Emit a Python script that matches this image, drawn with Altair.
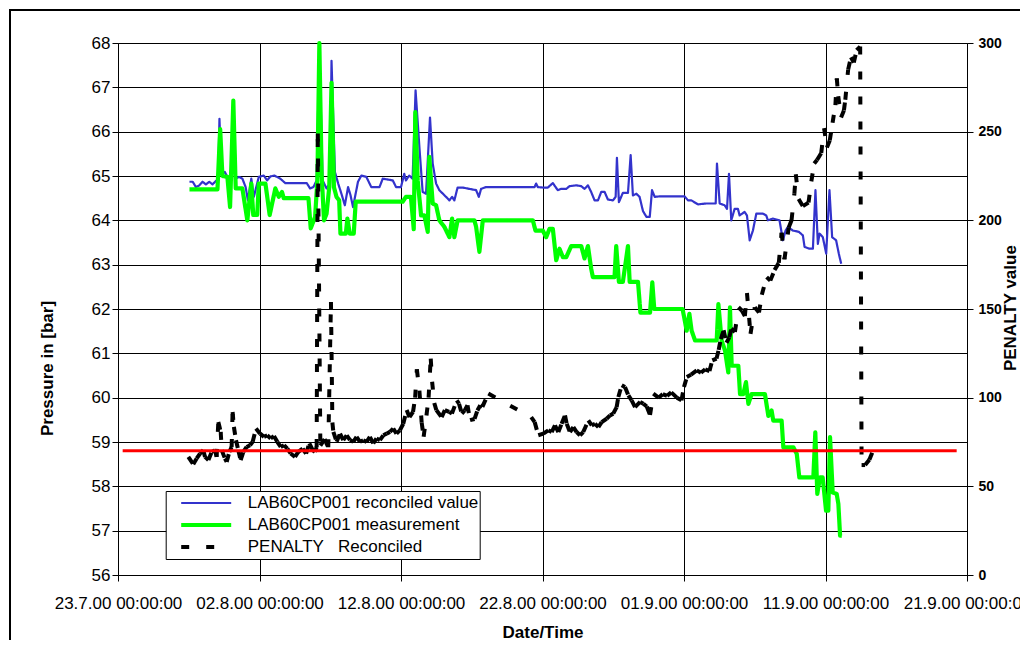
import altair as alt
import pandas as pd

FONT = "Liberation Sans, Arial, sans-serif"

# ---- series definitions -------------------------------------------------
SERIES = ["LAB60CP001 reconciled value", "LAB60CP001 measurement",
          "PENALTY\u00a0\u00a0\u00a0Reconciled"]
COLORS = ["#3333CC", "#00FF00", "#000000"]
WIDTHS = [2.2, 4.2, 4.0]
DASHES = [[1, 0], [1, 0], [8, 17]]

# ---- axes ---------------------------------------------------------------
TICK_DAYS = [0, 10, 20, 30, 40, 50, 60]          # days after 23.7.00
TICK_LABELS = ["23.7.00 00:00:00", "02.8.00 00:00:00", "12.8.00 00:00:00",
               "22.8.00 00:00:00", "01.9.00 00:00:00", "11.9.00 00:00:00",
               "21.9.00 00:00:00"]
PRESSURE_TICKS = list(range(56, 69))
PENALTY_TICKS = [0, 50, 100, 150, 200, 250, 300]

# ---- data (days after 23.7.00 00:00) ----------------------------------
BLUE_DAY = [5.05, 5.28, 5.51, 5.75, 5.98, 6.21, 6.45, 6.68, 6.92, 7.08, 7.17, 7.31, 7.55, 7.73, 7.97,
            8.15, 8.32, 8.55, 8.79, 9.02, 9.18, 9.42, 9.6, 9.95, 10.3, 10.54, 10.77, 11.05, 11.47,
            11.82, 12.64, 13.34, 13.57, 13.81, 14.04, 14.23, 14.46, 14.74, 14.98, 15.09, 15.33,
            15.56, 15.79, 16.03, 16.26, 16.43, 16.61, 16.96, 17.2, 17.55, 17.9, 18.48, 18.71,
            19.42, 19.65, 20.0, 20.23, 20.35, 20.58, 20.82, 21.03, 21.3, 21.53, 21.77, 22.05,
            22.24, 22.48, 22.71, 23.18, 23.42, 23.61, 23.77, 24.0, 24.36, 24.83, 25.31, 25.5,
            25.66, 26.01, 27.67, 29.44, 29.55, 29.67, 30.02, 30.38, 30.73, 31.08, 31.32, 31.68,
            31.91, 32.38, 32.74, 32.97, 33.21, 33.44, 33.68, 33.92, 34.15, 34.39, 34.62, 34.98,
            35.17, 35.26, 35.4, 35.68, 36.04, 36.23, 36.39, 36.63, 36.86, 37.1, 37.34, 37.58,
            37.74, 37.93, 38.28, 39.22, 40.05, 40.28, 40.52, 40.99, 41.58, 42.24, 42.33, 42.52,
            42.87, 43.04, 43.18, 43.34, 43.58, 43.81, 43.93, 44.28, 44.45, 44.64, 44.87, 45.11,
            45.58, 45.81, 45.93, 46.28, 46.75, 46.99, 47.18, 47.34, 47.69, 48.12, 48.4, 48.52,
            48.87, 49.11, 49.29, 49.46, 49.58, 49.81, 50.05, 50.28, 50.47, 50.75, 50.94, 51.11]
BLUE_P = [64.87, 64.87, 64.75, 64.79, 64.87, 64.81, 64.87, 64.81, 64.89, 64.9, 66.29, 65.05, 65.09,
          64.98, 64.9, 66.7, 64.94, 64.98, 64.94, 64.75, 64.45, 64.94, 64.53, 64.98, 65.01, 64.9,
          64.99, 65.01, 64.94, 64.84, 64.84, 64.84, 64.72, 64.75, 64.9, 67.9, 64.9, 64.72, 64.83,
          67.6, 65.09, 64.83, 64.6, 64.34, 64.75, 64.57, 64.3, 64.87, 65.01, 64.98, 64.75, 64.75,
          64.94, 64.9, 64.75, 64.75, 65.05, 64.9, 65.01, 64.94, 66.93, 65.65, 64.64, 64.6, 66.32,
          65.28, 64.83, 64.68, 64.53, 64.45, 64.53, 64.45, 64.74, 64.74, 64.71, 64.68, 64.53,
          64.71, 64.75, 64.75, 64.75, 64.83, 64.75, 64.74, 64.74, 64.84, 64.68, 64.71, 64.71,
          64.77, 64.79, 64.77, 64.71, 64.79, 64.64, 64.45, 64.45, 64.64, 64.64, 64.47, 64.45,
          64.53, 65.41, 64.41, 64.62, 64.62, 65.47, 64.56, 64.6, 64.53, 64.21, 64.08, 64.08,
          64.68, 64.53, 64.54, 64.54, 64.54, 64.45, 64.45, 64.36, 64.38, 64.38, 65.28, 64.38,
          64.34, 64.26, 65.05, 64.0, 64.26, 64.26, 64.11, 64.19, 64.11, 63.55, 63.77, 64.15,
          64.15, 64.11, 64.0, 64.04, 64.0, 63.55, 63.77, 63.85, 63.77, 63.74, 63.66, 63.4,
          63.36, 63.36, 64.68, 63.47, 63.7, 63.62, 63.25, 64.68, 63.62, 63.55, 63.25, 63.02]

GREEN_DAY = [5.05, 7.03, 7.22, 7.38, 7.73, 7.92, 8.15, 8.32, 8.79, 9.14, 9.42, 9.56, 9.84, 9.95,
             10.42, 10.72, 11.12, 11.36, 11.59, 11.71, 13.46, 13.62, 13.93, 14.09, 14.23, 14.39,
             14.56, 14.74, 14.93, 15.09, 15.26, 15.44, 15.63, 15.72, 16.1, 16.21, 16.38, 16.66,
             16.8, 17.08, 20.12, 20.35, 20.7, 20.9, 21.01, 21.18, 21.42, 21.65, 21.89, 22.0,
             22.24, 22.48, 22.71, 23.07, 23.42, 23.61, 23.77, 24.0, 25.19, 25.31, 25.54, 25.78,
             29.32, 29.5, 30.02, 30.26, 30.5, 30.73, 30.97, 31.2, 31.44, 31.68, 32.03, 32.74,
             32.97, 33.21, 33.44, 33.56, 35.09, 35.21, 35.4, 35.68, 36.04, 36.16, 36.75, 36.92,
             37.6, 37.76, 37.9, 39.9, 40.19, 40.38, 40.54, 40.78, 42.31, 42.43, 42.66, 42.9,
             43.13, 43.25, 43.37, 43.84, 43.96, 44.19, 44.38, 44.55, 44.78, 45.72, 45.96, 46.19,
             46.31, 46.9, 47.02, 47.73, 47.97, 48.15, 49.14, 49.28, 49.42, 49.61, 49.8, 50.04,
             50.2, 50.32, 50.51, 50.79, 50.91, 51.03, 51.15]
GREEN_P = [64.7, 64.7, 66.06, 65.0, 64.98, 64.3, 66.7, 64.72, 64.72, 64.0, 64.83, 64.12, 64.12,
           64.83, 64.83, 64.12, 64.72, 64.53, 64.64, 64.5, 64.5, 63.82, 64.08, 64.9, 68.0, 65.05,
           64.0, 64.15, 64.75, 67.1, 64.75, 64.53, 64.45, 63.7, 63.7, 64.04, 63.7, 63.7, 64.42,
           64.42, 64.42, 64.53, 64.53, 63.8, 66.44, 64.9, 64.11, 64.11, 63.74, 65.43, 64.38,
           64.34, 64.0, 63.85, 63.62, 64.04, 63.62, 64.0, 64.0, 63.85, 63.29, 64.0, 64.0, 63.77,
           63.77, 63.62, 63.81, 63.81, 63.1, 63.36, 63.17, 63.17, 63.42, 63.42, 63.14, 63.42,
           62.91, 62.72, 62.72, 63.42, 62.61, 62.61, 63.42, 62.61, 62.61, 61.92, 61.92, 62.6,
           62.0, 62.0, 61.51, 61.89, 61.51, 61.29, 61.29, 62.11, 61.29, 61.06, 60.57, 62.04,
           60.72, 60.72, 60.08, 60.08, 60.35, 59.86, 60.08, 60.08, 59.59, 59.71, 59.48, 59.48,
           58.88, 58.88, 58.73, 58.2, 58.2, 59.22, 57.83, 58.2, 58.2, 57.45, 57.45, 59.11, 57.86,
           57.83, 57.6, 56.89, 56.89]

PEN_DAY = [4.97, 5.32, 5.56, 5.8, 6.03, 6.15, 6.39, 6.62, 6.86, 6.97, 7.09, 7.26, 7.33, 7.56, 7.68,
           7.87, 8.03, 8.1, 8.19, 8.34, 8.5, 8.67, 8.86, 9.09, 9.33, 9.52, 9.75, 10.04, 10.32,
           10.55, 10.79, 11.02, 11.26, 11.5, 11.73, 11.97, 12.2, 12.51, 12.74, 13.05, 13.29,
           13.52, 13.76, 13.92, 14.04, 14.12, 14.3, 14.6, 14.86, 15.05, 15.15, 15.22, 15.45,
           15.69, 15.92, 16.16, 16.4, 16.63, 16.86, 17.1, 17.33, 17.57, 17.8, 18.04, 18.27,
           18.51, 18.75, 18.98, 19.22, 19.45, 19.68, 19.92, 20.16, 20.4, 20.6, 20.85, 21.0,
           21.12, 21.3, 21.46, 21.6, 21.8, 21.95, 22.1, 22.2, 22.35, 22.5, 22.87, 23.1, 23.4,
           23.6, 23.94, 24.1, 24.3, 24.5, 24.7, 24.88, 25.2, 25.4, 25.6, 25.75, 26.17, 29.2,
           29.45, 29.7, 30.06, 30.41, 30.65, 30.88, 31.12, 31.35, 31.59, 31.71, 31.94, 32.18,
           32.41, 32.65, 32.88, 33.24, 33.48, 33.71, 33.95, 34.18, 34.53, 34.77, 35.0, 35.24,
           35.36, 35.6, 35.83, 36.07, 36.3, 36.54, 36.9, 37.13, 37.37, 37.6, 37.83, 38.2, 38.5,
           38.8, 39.1, 39.5, 39.82, 40.0, 40.2, 40.5, 40.9, 41.2, 41.5, 41.8, 42.0, 42.3, 42.45,
           42.6, 42.8, 43.0, 43.2, 43.35, 43.6, 43.85, 44.1, 44.3, 44.45, 44.7, 45.0, 45.3, 45.5,
           45.84, 46.1, 46.4, 46.7, 46.9, 47.1, 47.4, 47.6, 47.8, 47.9, 48.1, 48.4, 48.8, 49.0,
           49.2, 49.4, 49.7, 49.9, 50.1, 50.3, 50.5, 50.7, 50.8, 50.9, 51.1, 51.3, 51.4, 51.6,
           51.8, 52.0, 52.2, 52.45, 52.55, 52.8, 53.1, 53.3]
PEN_VAL = [66.6, 62.5, 65.7, 68.5, 70.4, 66.6, 64.8, 69.4, 70.4, 66.6, 86.3, 80.7, 70.4, 65.7, 63.8,
           69.4, 72.2, 91.9, 83.5, 76.0, 70.4, 64.8, 69.4, 72.2, 73.2, 75.1, 82.6, 79.7, 77.9, 78.8,
           77.0, 78.3, 75.1, 72.2, 73.2, 71.3, 68.5, 66.6, 69.4, 71.3, 68.5, 74.2, 70.4, 69.4, 72.2,
           249.0, 73.0, 76.6, 72.0, 154.0, 86.0, 80.7, 75.1, 79.7, 76.0, 78.8, 76.0, 75.1, 77.9,
           75.1, 76.0, 75.1, 77.9, 74.2, 77.0, 76.0, 78.8, 79.7, 80.7, 82.6, 79.7, 81.6, 85.3, 93.0,
           89.0, 92.0, 100.0, 116.0, 104.0, 86.0, 78.0, 90.0, 100.0, 122.0, 109.0, 97.0, 93.0,
           89.0, 93.0, 92.0, 91.0, 98.5, 96.6, 91.0, 92.8, 95.7, 87.3, 88.0, 92.8, 95.7, 94.8,
           102.3, 89.0, 86.2, 78.8, 79.7, 81.6, 80.6, 84.4, 80.6, 85.3, 90.0, 85.3, 80.6, 83.4,
           80.6, 78.8, 80.6, 87.2, 84.4, 85.3, 83.4, 86.2, 88.1, 90.0, 91.0, 94.7, 100.4, 107.0,
           106.0, 101.3, 98.5, 94.7, 97.6, 96.6, 95.0, 90.2, 102.3, 100.0, 102.0, 101.0, 103.0,
           100.0, 98.5, 106.0, 111.6, 113.0, 115.4, 114.0, 116.0, 115.0, 121.0, 122.0, 127.0,
           133.0, 138.0, 131.0, 134.0, 139.0, 137.0, 151.0, 149.0, 146.0, 159.0, 136.0, 151.0,
           148.0, 158.0, 168.0, 166.0, 172.0, 176.0, 193.0, 178.0, 196.0, 200.0, 215.0, 226.0,
           212.0, 208.0, 210.0, 222.0, 232.0, 234.0, 238.0, 252.0, 241.0, 245.0, 255.0, 265.0,
           280.0, 270.0, 258.0, 262.0, 268.0, 285.0, 292.0, 289.0, 296.0, 298.0, 62.0, 62.0,
           65.0, 69.0]

LIMIT_DAY = [0.33, 59.27]
LIMIT_VAL = [70, 70]

# ---- tables ---------------------------------------------------------------
blue_df = pd.DataFrame({"day": BLUE_DAY, "pressure": BLUE_P, "series": SERIES[0]})
green_df = pd.DataFrame({"day": GREEN_DAY, "pressure": GREEN_P, "series": SERIES[1]})
# Excel restarts the dash pattern at every data point: one path per segment
seg_rows = []
for i in range(len(PEN_DAY) - 1):
    for k in (0, 1):
        seg_rows.append({"day": PEN_DAY[i + k], "penalty": PEN_VAL[i + k],
                         "seg": i, "k": k, "series": SERIES[2]})
pen_df = pd.DataFrame(seg_rows)
limit_df = pd.DataFrame({"day": LIMIT_DAY, "penalty": LIMIT_VAL})

# ---- encodings -------------------------------------------------------------
label_expr = "[" + ",".join("'%s'" % t for t in TICK_LABELS) + "][round(datum.value / 10)]"

X_AXIS = alt.Axis(values=TICK_DAYS, labelExpr=label_expr, grid=True, gridColor="#000000",
                  gridWidth=1, gridOpacity=1, domainColor="#000000", tickColor="#000000",
                  tickSize=6, labelPadding=14, labelFont=FONT, labelFontSize=17,
                  labelColor="#000000", labelFlush=False, labelOverlap=False,
                  title="Date/Time", titleFont=FONT, titleFontSize=17, titleFontWeight="bold",
                  titleColor="#000000", titleX=424.5, titleY=57, titleAlign="center",
                  titleBaseline="middle")
LEFT_AXIS = alt.Axis(orient="left", values=PRESSURE_TICKS, grid=True, gridColor="#000000",
                     gridWidth=1, gridOpacity=1, domainColor="#000000", tickColor="#000000",
                     tickSize=6, labelPadding=2, labelFont=FONT, labelFontSize=17,
                     labelColor="#000000", labelFlush=False, labelOverlap=False,
                     title="Pressure in [bar]", titleFont=FONT, titleFontSize=17,
                     titleFontWeight="bold", titleColor="#000000", titleAngle=270,
                     titleX=-71, titleY=325, titleAlign="center", titleBaseline="middle")
RIGHT_AXIS = alt.Axis(orient="right", values=PENALTY_TICKS, grid=False, domainColor="#000000",
                      tickColor="#000000", tickSize=6, labelPadding=5, labelFont=FONT,
                      labelFontSize=14, labelFontWeight="bold", labelColor="#000000",
                      labelFlush=False, labelOverlap=False, title="PENALTY value",
                      titleFont=FONT, titleFontSize=17, titleFontWeight="bold",
                      titleColor="#000000", titleAngle=270, titleX=43, titleY=264.6,
                      titleAlign="center", titleBaseline="middle")

LEGEND = alt.Legend(orient="none", legendX=47.7, legendY=448, title=None,
                    fillColor="#FFFFFF", strokeColor="#000000", padding=1,
                    symbolType="stroke", symbolSize=2500, symbolOffset=12, labelOffset=14,
                    labelFont=FONT, labelFontSize=17, labelColor="#000000", labelLimit=400,
                    clipHeight=22, rowPadding=0)

X_SCALE = alt.Scale(domain=[0, 60], nice=False, zero=False)
LEFT_SCALE = alt.Scale(domain=[56, 68], nice=False, zero=False)
RIGHT_SCALE = alt.Scale(domain=[0, 300], nice=False, zero=False)


def style_enc():
    return dict(
        color=alt.Color("series:N", scale=alt.Scale(domain=SERIES, range=COLORS), legend=LEGEND),
        strokeDash=alt.StrokeDash("series:N", scale=alt.Scale(domain=SERIES, range=DASHES),
                                  legend=LEGEND),
        strokeWidth=alt.StrokeWidth("series:N",
                                    scale=alt.Scale(type="ordinal", domain=SERIES, range=WIDTHS),
                                    legend=LEGEND),
    )


x_enc = alt.X("day:Q", scale=X_SCALE, axis=X_AXIS)

blue = alt.Chart(blue_df).mark_line(strokeJoin="round").encode(
    x=x_enc, y=alt.Y("pressure:Q", scale=LEFT_SCALE, axis=LEFT_AXIS), **style_enc())
green = alt.Chart(green_df).mark_line(strokeJoin="round").encode(
    x=x_enc, y=alt.Y("pressure:Q", scale=LEFT_SCALE, axis=LEFT_AXIS), **style_enc())
penalty = alt.Chart(pen_df).mark_line(strokeCap="butt").encode(
    x=x_enc, y=alt.Y("penalty:Q", scale=RIGHT_SCALE, axis=RIGHT_AXIS),
    detail="seg:N", order=alt.Order("k:Q"), **style_enc())
limit = alt.Chart(limit_df).mark_line(color="#FF0000", strokeWidth=3).encode(
    x=x_enc, y=alt.Y("penalty:Q", scale=RIGHT_SCALE, axis=RIGHT_AXIS))

frame = alt.Chart(alt.Data(values=[{"f": 1}])).mark_rect(
    filled=False, color="#000000", strokeWidth=2).encode(
    x=alt.value(-108), x2=alt.value(1300), y=alt.value(-33), y2=alt.value(1000))

left = alt.layer(blue, green)
right = alt.layer(penalty, limit)

chart = alt.layer(frame, left, right).resolve_scale(y="independent").properties(
    width=849, height=532,
    padding={"left": 110, "top": 35, "right": 53, "bottom": 65},
    autosize=alt.AutoSizeParams(type="none"),
    background="#FFFFFF",
).configure_view(strokeWidth=0)

chart.save("out.html", embed_options={"renderer": "svg", "actions": False})
